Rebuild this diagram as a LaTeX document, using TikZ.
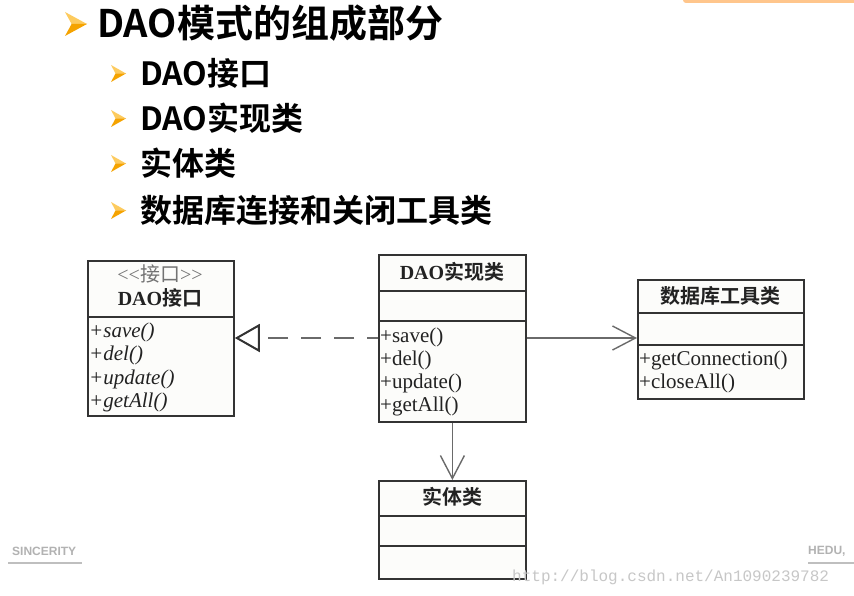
\documentclass[tikz,border=0pt]{standalone}
\usepackage{fontspec}
\setmainfont{Liberation Serif}
\newfontfamily\cjk{Noto Sans CJK SC}[BoldFont={Noto Sans CJK SC Bold}]
\newfontfamily\wmono{Liberation Mono}
\newfontfamily\wsans{Liberation Sans}
\usetikzlibrary{arrows.meta}
\definecolor{boxc}{HTML}{333333}
\definecolor{boxfill}{HTML}{FCFCFA}
\definecolor{conc}{HTML}{6A6A6A}
\definecolor{txtc}{HTML}{222222}
\definecolor{orgA}{HTML}{FDCB5E}
\definecolor{orgB}{HTML}{F5A300}
\newcommand\zh[1]{{\cjk #1}}
\newcommand\myarrow[4]{% x0 y0 w h
  \fill[orgA] (#1,#2) -- ({#1+#3},{#2+#4/2}) -- ({#1+0.3*#3},{#2+#4/2}) -- cycle;
  \fill[orgB] ({#1+0.3*#3},{#2+#4/2}) -- ({#1+#3},{#2+#4/2}) -- (#1,{#2+#4}) -- cycle;}
\begin{document}
\begin{tikzpicture}[x=1pt,y=-1pt,
  cls/.style={draw=boxc, line width=1.8pt, fill=boxfill, inner sep=0pt, anchor=north west},
  divl/.style={draw=boxc, line width=1.8pt},
  ctitle/.style={inner sep=0pt, text=txtc, font=\fontsize{20}{22}\selectfont\bfseries},
  meth/.style={inner sep=0pt, anchor=west, text=txtc, text height=0.7em, text depth=0.2em, font=\fontsize{21}{23}\selectfont},
  imeth/.style={meth, font=\fontsize{21}{23}\selectfont\itshape},
  head/.style={inner sep=0pt, anchor=west, font=\fontsize{38}{41}\selectfont\cjk\bfseries},
  sub/.style={inner sep=0pt, anchor=west, font=\fontsize{32}{35}\selectfont\cjk\bfseries},
  dep/.style={draw=conc, line width=1.4pt, -{Straight Barb[length=23pt, width=24pt, line width=1.4pt]}},
  real/.style={draw=conc, line width=1.8pt, dash pattern=on 20pt off 13pt, dash phase=9pt,
     -{Triangle[length=25pt, width=28pt, line width=2pt, fill=white, color=boxc]}},
  wm/.style={inner sep=0pt, text=black!30}
]
\useasboundingbox (0,0) rectangle (854,596);
\fill[white] (0,0) rectangle (854,596);
% top-right orange bar
\fill[orange!45, rounded corners=3pt] (683,-8) rectangle (870,3);

% headings
\myarrow{65}{12}{22}{24}
\node[head] (h0) at (97,23) {DAO模式的组成部分};
\myarrow{111}{65}{15}{17}
\node[sub] (h1) at (140,73) {DAO接口};
\myarrow{111}{110}{15}{17}
\node[sub] (h2) at (140,118) {DAO实现类};
\myarrow{111}{155}{15}{17}
\node[sub] (h3) at (140,163) {实体类};
\myarrow{111}{202}{15}{17}
\node[sub] (h4) at (140,210) {数据库连接和关闭工具类};

% interface box
\node[cls, minimum width=146pt, minimum height=155pt] (iface) at (87,260) {};
\draw[divl] (iface.west |- 0,317) -- (iface.east |- 0,317);
\node[inner sep=0pt, text=black!55, font=\fontsize{20}{22}\selectfont] (ist) at (160,274) {<{}<\zh{接口}>{}>};
\node[ctitle] (iname) at (160,298) {DAO\zh{接口}};
\node[imeth] (i1) at (89,335) {+save()};
\node[imeth] (i2) at (89,358) {+del()};
\node[imeth] (i3) at (89,382) {+update()};
\node[imeth] (i4) at (89,405) {+getAll()};

% implementation box
\node[cls, minimum width=147pt, minimum height=167pt] (impl) at (378,254) {};
\draw[divl] (impl.west |- 0,291) -- (impl.east |- 0,291);
\draw[divl] (impl.west |- 0,321) -- (impl.east |- 0,321);
\node[ctitle] (pname) at (452,272) {DAO\zh{实现类}};
\node[meth] (p1) at (380,340) {+save()};
\node[meth] (p2) at (380,363) {+del()};
\node[meth] (p3) at (380,386) {+update()};
\node[meth] (p4) at (380,409) {+getAll()};

% db util box
\node[cls, minimum width=166pt, minimum height=119pt] (db) at (637,279) {};
\draw[divl] (db.west |- 0,313) -- (db.east |- 0,313);
\draw[divl] (db.west |- 0,345) -- (db.east |- 0,345);
\node[ctitle] (dname) at (720,296) {\zh{数据库工具类}};
\node[meth] (d1) at (639,363) {+getConnection()};
\node[meth] (d2) at (639,386) {+closeAll()};

% entity box
\node[cls, minimum width=147pt, minimum height=98pt] (ent) at (378,480) {};
\draw[divl] (ent.west |- 0,516) -- (ent.east |- 0,516);
\draw[divl] (ent.west |- 0,546) -- (ent.east |- 0,546);
\node[ctitle] (ename) at (452,497) {\zh{实体类}};

% connectors
\coordinate (rs) at (impl.west |- 0,338);
\coordinate (re) at (iface.east |- 0,338);
\draw[real] (rs) -- (re);
\coordinate (ds) at (impl.east |- 0,338);
\coordinate (de) at (db.west |- 0,338);
\draw[dep] (ds) -- (de);
\draw[dep] (impl.south) -- (ent.north);

% watermarks
\node[wm, anchor=west, font=\fontsize{12}{14}\selectfont\wsans\bfseries] (w1) at (12,551) {SINCERITY};
\draw[black!25, line width=2pt] (8,563) -- (82,563);
\node[wm, anchor=west, font=\fontsize{12}{14}\selectfont\wsans\bfseries] (w2) at (808,551) {HEDU,};
\draw[black!25, line width=2pt] (808,563) -- (854,563);
\node[wm, anchor=west, text=black!22, font=\fontsize{16}{18}\selectfont\wmono] (w3) at (512,577) {http://blog.csdn.net/An1090239782};
\end{tikzpicture}
\end{document}
